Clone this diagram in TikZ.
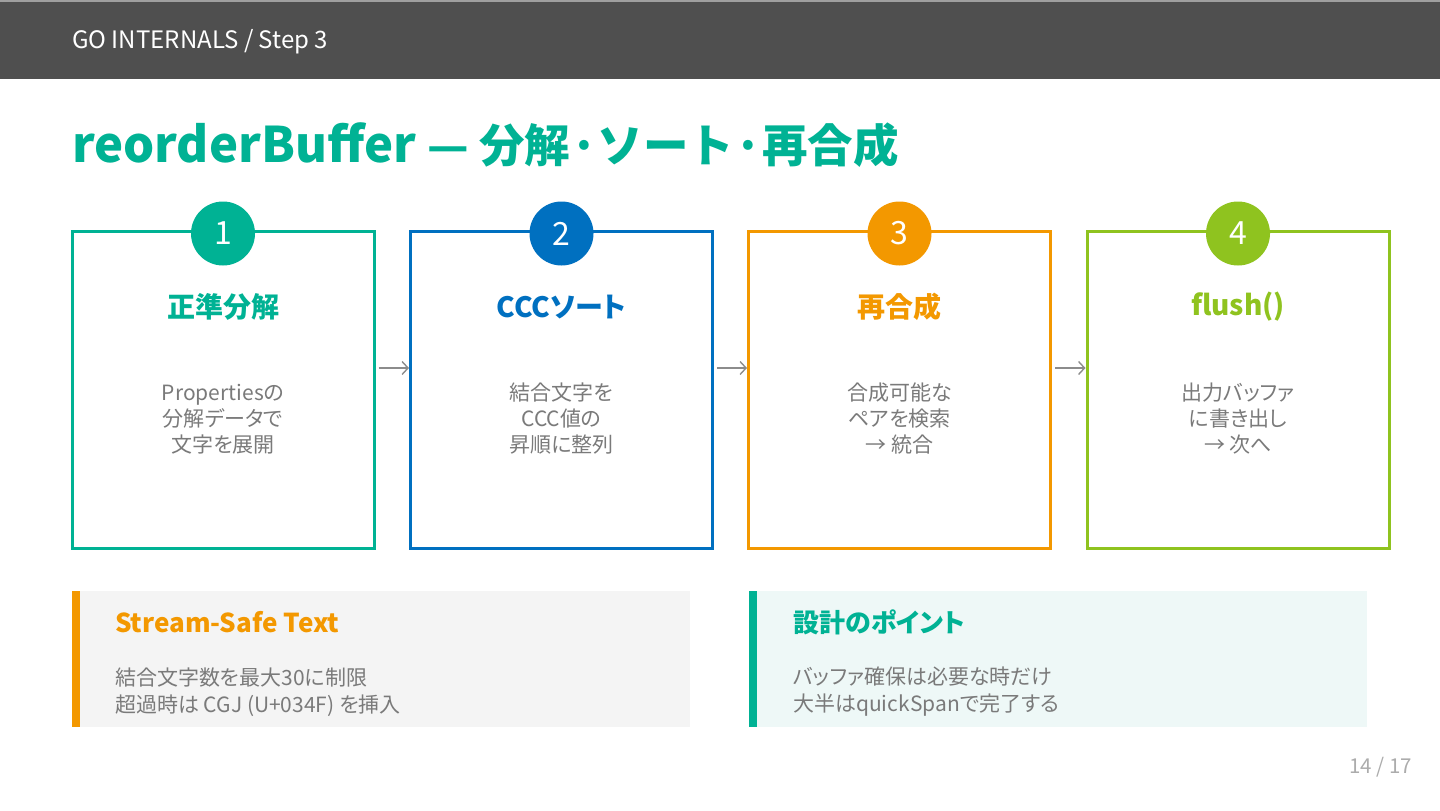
\documentclass[tikz,border=0pt]{standalone}
\usepackage{fontspec}
\setmainfont{Noto Sans CJK JP}[RawFeature=+palt]
\newfontfamily\titlefont{Noto Sans CJK JP}
\usepackage{xcolor}
\definecolor{gHead}{HTML}{4F4F4F}
\definecolor{gTeal}{HTML}{00B294}
\definecolor{gBlue}{HTML}{0070C0}
\definecolor{gOrange}{HTML}{F39800}
\definecolor{gGreen}{HTML}{8FC31F}
\definecolor{gText}{HTML}{7A7A7A}
\definecolor{gPanel}{HTML}{F4F4F4}
\definecolor{gPanelT}{HTML}{EEF8F7}
\usepackage{tikz}
\usetikzlibrary{arrows.meta, positioning, shadows}

\begin{document}
\begin{tikzpicture}[x=1pt, y=-1pt,
  stepbox/.style={draw, line width=3pt, fill=white, minimum width=302, minimum height=317,
    inner sep=0, drop shadow={opacity=0.12, shadow xshift=1pt, shadow yshift=-2pt}},
  numdot/.style={circle, minimum size=64, inner sep=0, text=white,
    font=\fontsize{32}{34}\selectfont},
  steptitle/.style={font=\fontsize{28}{32}\selectfont\bfseries},
  stepbody/.style={align=center, text=gText, font=\fontsize{21}{26}\selectfont},
  flow/.style={-{Straight Barb[length=6pt,width=13pt]}, draw=gray!90, line width=1.4pt},
  panelhead/.style={anchor=base west, inner sep=0, font=\fontsize{26}{30}\selectfont\bfseries},
  paneltext/.style={anchor=west, inner sep=0, align=left, text=gText,
    font=\fontsize{21}{27}\selectfont}
]
\useasboundingbox (0,0) rectangle (1440,811);

% header bar
\fill[gHead] (0,0) rectangle (1440,79);
\fill[gray!75] (0,0) rectangle (1440,1.5);
\node[anchor=base west, inner sep=0, text=white, font=\fontsize{24}{28}\selectfont] (crumb) at (72,48) {GO INTERNALS / Step 3};

\node[anchor=base west, inner sep=0, text=gTeal, font=\titlefont\bfseries] (title) at (72,162)
  {\fontsize{49}{54}\selectfont reorderBuffer \fontsize{45.5}{54}\selectfont — 分解·ソート·再合成};

% four steps
\node[stepbox, draw=gTeal] (b1) at (223,389.5) {};
\node[stepbox, draw=gBlue] (b2) at (561.5,389.5) {};
\node[stepbox, draw=gOrange] (b3) at (899.5,389.5) {};
\node[stepbox, draw=gGreen] (b4) at (1238,389.5) {};

\node[numdot, fill=gTeal] (n1) at ([yshift=-4pt]b1.north) {1};
\node[numdot, fill=gBlue] (n2) at ([yshift=-4pt]b2.north) {2};
\node[numdot, fill=gOrange] (n3) at ([yshift=-4pt]b3.north) {3};
\node[numdot, fill=gGreen] (n4) at ([yshift=-4pt]b4.north) {4};

\node[steptitle, text=gTeal] (h1) at (223,307) {正準分解};
\node[steptitle, text=gBlue] (h2) at (561.5,307) {CCCソート};
\node[steptitle, text=gOrange] (h3) at (899.5,307) {再合成};
\node[steptitle, text=gGreen] (h4) at (1238,307) {flush()};

\node[stepbody] (t1) at (223,419) {Propertiesの\\分解データで\\文字を展開};
\node[stepbody] (t2) at (561.5,419) {結合文字を\\CCC値の\\昇順に整列};
\node[stepbody] (t3) at (899.5,419) {合成可能な\\ペアを検索\\→ 統合};
\node[stepbody] (t4) at (1238,419) {出力バッファ\\に書き出し\\→ 次へ};

\draw[flow, shorten <=3pt] ([yshift=21.5pt]b1.east) -- ([yshift=21.5pt]b2.west);
\draw[flow, shorten <=3pt] ([yshift=21.5pt]b2.east) -- ([yshift=21.5pt]b3.west);
\draw[flow, shorten <=3pt] ([yshift=21.5pt]b3.east) -- ([yshift=21.5pt]b4.west);

% notes
\fill[gPanel] (72,591) rectangle (690,727);
\fill[gOrange] (72,591) rectangle (80,727);
\node[panelhead, text=gOrange] (p1) at (115,632) {Stream-Safe Text};
\node[paneltext] (q1) at (115,692) {結合文字数を最大30に制限\\超過時は CGJ (U+034F) を挿入};

\fill[gPanelT] (749,591) rectangle (1367,727);
\fill[gTeal] (749,591) rectangle (757,727);
\node[panelhead, text=gTeal] (p2) at (793,632) {設計のポイント};
\node[paneltext] (q2) at (793,692) {バッファ確保は必要な時だけ\\大半はquickSpanで完了する};

\node[anchor=base east, inner sep=0, text=gray!65, font=\fontsize{20.5}{24}\selectfont] (page) at (1412,773) {14 / 17};
\end{tikzpicture}
\end{document}
